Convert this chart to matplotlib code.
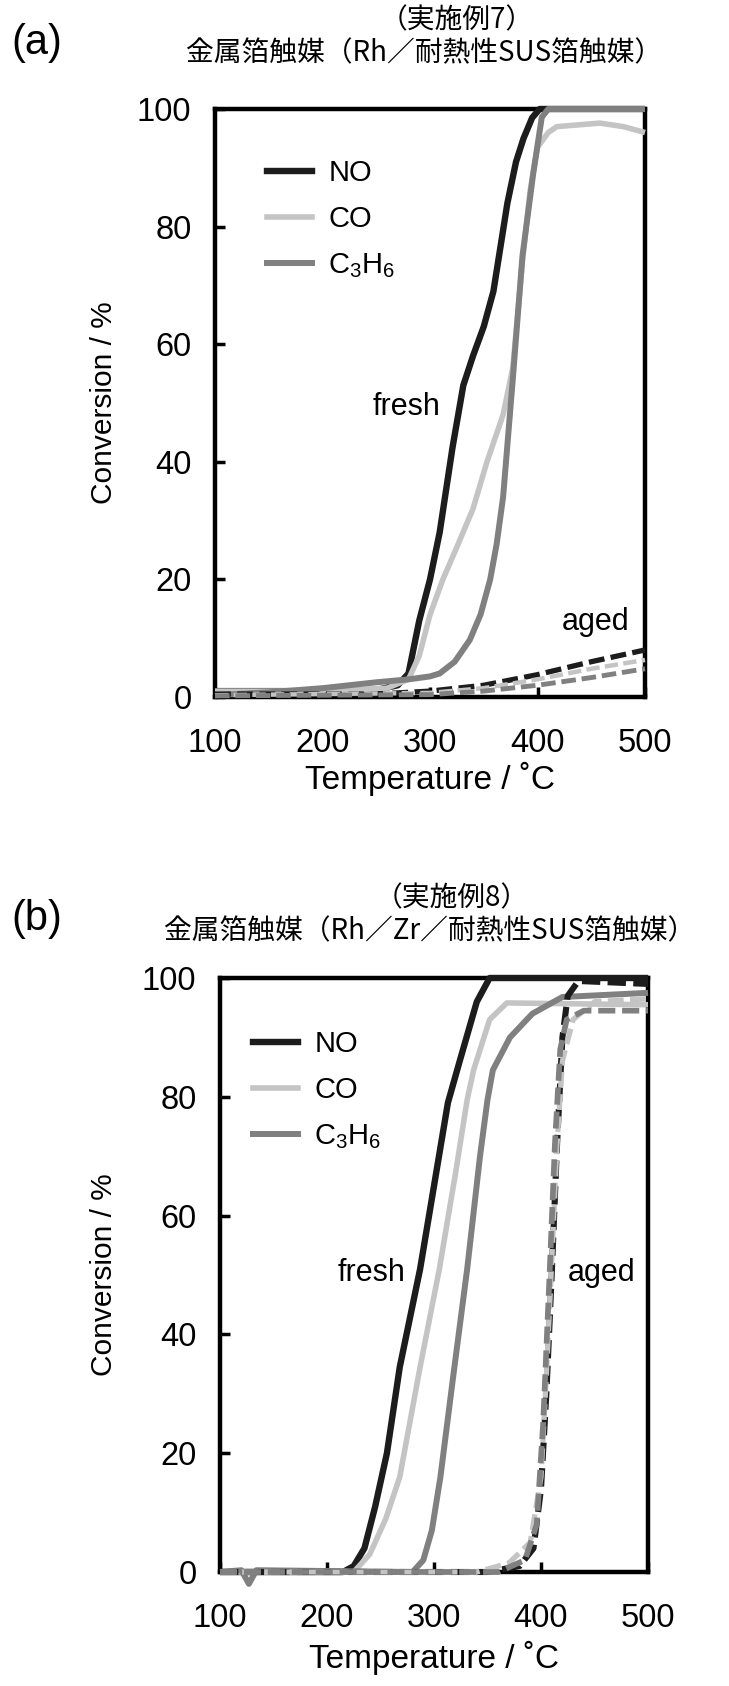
import matplotlib
matplotlib.use("Agg")
import matplotlib.pyplot as plt
from matplotlib.lines import Line2D

plt.rcParams['font.family'] = ['Liberation Sans', 'DejaVu Sans']
plt.rcParams['mathtext.fontset'] = 'custom'
plt.rcParams['mathtext.rm'] = 'Liberation Sans'
plt.rcParams['mathtext.it'] = 'Liberation Sans:italic'

CJK = ['Noto Sans CJK JP', 'DejaVu Sans']

# ---------------- data: panel (a) ----------------
a_no_fresh_T = [100, 200, 250, 270, 280, 290, 300, 309, 321, 331, 340, 350, 359, 372, 380, 387, 395, 402, 450, 500]
a_no_fresh_y = [1, 1, 1.2, 2, 4, 13, 20, 28, 42.5, 53, 58, 63, 69, 84, 91, 95, 98.5, 100, 100, 100]
a_co_fresh_T = [100, 200, 260, 280, 290, 300, 312, 325, 340, 353, 368, 377, 386, 393, 400, 410, 418, 458, 480, 500]
a_co_fresh_y = [1, 1, 1.5, 3, 7, 14, 20, 25.5, 32, 40, 48, 56, 74, 86, 93.5, 96, 97, 97.6, 97, 96]
a_hc_fresh_T = [100, 150, 200, 250, 280, 300, 309, 323, 337, 347, 356, 362, 368, 377, 386, 396, 404, 410, 500]
a_hc_fresh_y = [0.3, 0.8, 1.5, 2.5, 3, 3.5, 4, 6, 9.7, 14, 20, 26, 34, 54, 75, 89, 98.6, 100, 100]
a_no_aged_T = [100, 250, 300, 350, 400, 450, 500]
a_no_aged_y = [0.5, 0.5, 1, 2, 3.8, 6, 8]
a_co_aged_T = [100, 300, 350, 400, 450, 500]
a_co_aged_y = [0.3, 0.7, 1.5, 3, 4.8, 6.3]
a_hc_aged_T = [100, 300, 350, 400, 450, 500]
a_hc_aged_y = [0.2, 0.4, 1, 2, 3.3, 4.8]

# ---------------- data: panel (b) ----------------
b_no_fresh_T = [100, 215, 225, 235, 245, 256, 268, 287, 300, 313, 324, 340, 352, 500]
b_no_fresh_y = [0, 0, 1, 4, 11, 20, 34.5, 51, 65, 79, 86, 96, 100, 100]
b_co_fresh_T = [100, 225, 240, 255, 268, 287, 305, 320, 331, 337, 352, 368, 500]
b_co_fresh_y = [0, 0, 3, 9, 16, 34.5, 51, 67, 79.5, 84.5, 93, 95.8, 95.5]
b_hc_fresh_T = [100, 120, 127, 134, 280, 290, 298, 306, 318, 331, 343, 350, 355, 371, 392, 420, 500]
b_hc_fresh_y = [0, 0.3, -2, 0.3, 0, 2, 7, 16, 33, 51, 70, 79.5, 84.5, 90, 94, 96.8, 97.5]
b_no_aged_T = [100, 350, 380, 393, 400, 405, 410, 415, 420, 425, 435, 500]
b_no_aged_y = [0, 0, 1, 4, 14, 30, 50, 72, 90, 97, 99.5, 99]
b_co_aged_T = [100, 340, 370, 390, 400, 405, 410, 415, 420, 430, 450, 500]
b_co_aged_y = [0, 0, 1.5, 5, 16, 33, 52, 72, 86, 93, 96, 96.5]
b_hc_aged_T = [100, 360, 385, 396, 402, 408, 413, 418, 424, 440, 500]
b_hc_aged_y = [0, 0, 2, 8, 25, 50, 72, 88, 93, 94.5, 94.5]

gases = ['NO', 'CO', 'C$_3$H$_6$']
x_ticks = [100, 200, 300, 400, 500]
y_ticks = [0, 20, 40, 60, 80, 100]
title_a = ['（実施例7）', '金属箔触媒（Rh／耐熱性SUS箔触媒）']
title_b = ['（実施例8）', '金属箔触媒（Rh／Zr／耐熱性SUS箔触媒）']

colors = ['#1c1c1c', '#c4c4c4', '#808080']
widths = [4.6, 4.0, 4.3]
aged_ls = (0, (3, 1.2))

W, H = 729, 1686
fig = plt.figure(figsize=(W / 100, H / 100), dpi=100)


def make_axes(left, right, top, bottom):
    return fig.add_axes([left / W, 1 - bottom / H, (right - left) / W, (bottom - top) / H])


def style(ax):
    ax.set_xlim(100, 500)
    ax.set_ylim(0, 100)
    ax.set_xticks(x_ticks)
    ax.set_yticks(y_ticks)
    ax.tick_params(axis='both', direction='in', length=7, width=2.5, labelsize=23.5)
    ax.tick_params(axis='x', pad=22)
    ax.tick_params(axis='y', pad=17)
    for s in ax.spines.values():
        s.set_linewidth(3.2)
    ax.set_xlabel('Temperature / ˚C', fontsize=24)
    ax.set_ylabel('Conversion / %', fontsize=21.5)


def draw(ax, fresh, aged, aged_dw):
    for (T, y), c, lw in zip(fresh, colors, widths):
        ax.plot(T, y, color=c, lw=lw, solid_capstyle='butt', clip_on=False, zorder=3)
    for (T, y), c, lw in zip(aged, colors, widths):
        ax.plot(T, y, color=c, lw=lw - aged_dw, ls=aged_ls, clip_on=False, zorder=3)


def legend(ax, x, y):
    handles = [Line2D([0], [0], color=c, lw=lw) for c, lw in zip(colors, widths)]
    ax.legend(handles, gases, loc='upper left', bbox_to_anchor=(x, y), frameon=False,
              fontsize=21, handlelength=1.55, handletextpad=0.55, labelspacing=0.62,
              borderpad=0, borderaxespad=0)


# ---- panel (a) ----
ax1 = make_axes(215, 645, 109, 697)
style(ax1)
draw(ax1,
     [(a_no_fresh_T, a_no_fresh_y), (a_co_fresh_T, a_co_fresh_y), (a_hc_fresh_T, a_hc_fresh_y)],
     [(a_no_aged_T, a_no_aged_y), (a_co_aged_T, a_co_aged_y), (a_hc_aged_T, a_hc_aged_y)], 0.8)
legend(ax1, 0.121, 0.915)
ax1.text(278, 49.3, 'fresh', fontsize=22, ha='center', va='center')
ax1.text(454, 12.8, 'aged', fontsize=22, ha='center', va='center')
ax1.xaxis.set_label_coords(0.5, -0.140)
ax1.xaxis.label.set_va('center')
ax1.yaxis.set_label_coords(-0.258, 0.5)
ax1.yaxis.label.set_va('center')

# ---- panel (b) ----
ax2 = make_axes(220, 648, 978, 1572)
style(ax2)
draw(ax2,
     [(b_no_fresh_T, b_no_fresh_y), (b_co_fresh_T, b_co_fresh_y), (b_hc_fresh_T, b_hc_fresh_y)],
     [(b_no_aged_T, b_no_aged_y), (b_co_aged_T, b_co_aged_y), (b_hc_aged_T, b_hc_aged_y)], 0.2)
legend(ax2, 0.077, 0.912)
ax2.text(242, 50.3, 'fresh', fontsize=22, ha='center', va='center')
ax2.text(457, 50.3, 'aged', fontsize=22, ha='center', va='center')
ax2.xaxis.set_label_coords(0.5, -0.144)
ax2.xaxis.label.set_va('center')
ax2.yaxis.set_label_coords(-0.271, 0.5)
ax2.yaxis.label.set_va('center')

# ---- panel letters and titles ----
fig.text(11 / W, 1 - 43 / H, '(a)', fontsize=30, ha='left', va='center')
fig.text(11 / W, 1 - 919 / H, '(b)', fontsize=30, ha='left', va='center')
fig.text(457 / W, 1 - 20 / H, title_a[0], fontsize=20, ha='center', va='center', family=CJK)
fig.text(424 / W, 1 - 53 / H, title_a[1], fontsize=20, ha='center', va='center', family=CJK)
fig.text(452 / W, 1 - 898 / H, title_b[0], fontsize=20, ha='center', va='center', family=CJK)
fig.text(430 / W, 1 - 931 / H, title_b[1], fontsize=20, ha='center', va='center', family=CJK)

fig.savefig('out.png', dpi=100)
